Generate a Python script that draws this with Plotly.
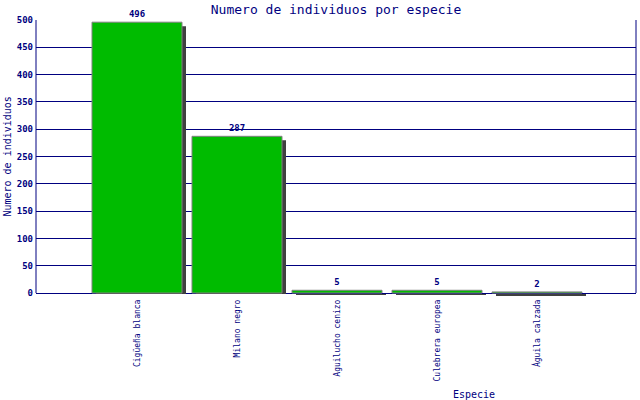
import plotly.graph_objects as go

especies = ["Cigüeña blanca", "Milano negro", "Aguilucho cenizo", "Culebrera europea", "Águila calzada"]
individuos = [496, 287, 5, 5, 2]
y_ticks = [0, 50, 100, 150, 200, 250, 300, 350, 400, 450, 500]

NAVY = "#000080"
FONT = "DejaVu Sans Mono"
shadow_dy = 7.3    # ~4 px drop of the shadow top, in y units
shadow_base = 1.8  # ~1 px below the axis

fig = go.Figure()
fig.add_trace(go.Bar(
    x=especies, y=[v - shadow_dy + shadow_base for v in individuos], base=-shadow_base,
    offset=-0.41, width=0.9,
    marker=dict(color="#404040", line=dict(width=0)),
    hoverinfo="skip", showlegend=False,
))
fig.add_trace(go.Bar(
    x=especies, y=individuos,
    offset=-0.45, width=0.9,
    marker=dict(color="#00bb00", line=dict(color="#808080", width=1)),
    text=[str(v) for v in individuos], textposition="outside",
    textfont=dict(family=FONT, size=9, color=NAVY, weight="bold"),
    cliponaxis=False, showlegend=False,
))

fig.update_layout(
    width=640, height=400,
    margin=dict(l=36, r=4, t=20, b=103, autoexpand=False),
    paper_bgcolor="white", plot_bgcolor="white",
    barmode="overlay",
    title=dict(text="Numero de individuos por especie", x=0.525, xanchor="center",
               y=1 - 9 / 400, yanchor="middle", automargin=False,
               font=dict(family=FONT, size=13, color=NAVY)),
    xaxis=dict(type="category", range=[-1.01, 4.99], tickangle=-90, automargin=False,
               showgrid=False, showline=False, ticks="",
               tickfont=dict(family=FONT, size=8, color=NAVY)),
    yaxis=dict(range=[-7.3, 500], tickvals=y_ticks, ticktext=[str(t) for t in y_ticks],
               automargin=False,
               showgrid=True, gridcolor=NAVY, gridwidth=1,
               zeroline=True, zerolinecolor=NAVY, zerolinewidth=1,
               showline=False, ticks="", ticklabelstandoff=2,
               tickfont=dict(family=FONT, size=9, color=NAVY, weight="bold")),
    shapes=[
        dict(type="line", xref="paper", yref="y", x0=0, x1=0, y0=0, y1=500,
             line=dict(color=NAVY, width=1), layer="above"),
        dict(type="line", xref="paper", yref="y", x0=1, x1=1, y0=0, y1=500,
             line=dict(color=NAVY, width=1), layer="above"),
    ],
    annotations=[
        dict(text="Numero de individuos", xref="paper", yref="paper",
             x=-(36 - 8) / 600, y=0.507, textangle=-90, showarrow=False,
             xanchor="center", yanchor="middle",
             font=dict(family=FONT, size=10, color=NAVY)),
        dict(text="Especie", xref="paper", yref="paper",
             x=(474 - 36) / 600, y=-(394 - 297) / 277, showarrow=False,
             xanchor="center", yanchor="middle",
             font=dict(family=FONT, size=10, color=NAVY)),
    ],
)

fig.write_html("out.html", config={"displayModeBar": False},
               post_script="document.body.style.margin='0';document.body.style.overflow='hidden';")
